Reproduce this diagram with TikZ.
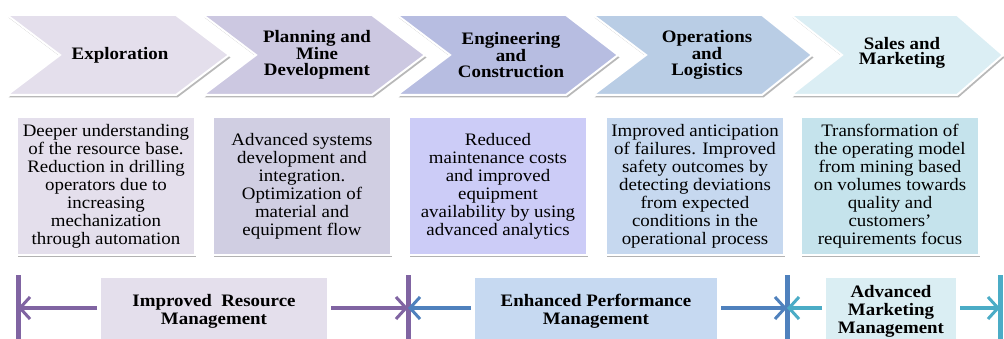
\documentclass[tikz,border=0pt]{standalone}
\usepackage{fontspec}
\setmainfont{Liberation Serif}
\newfontfamily\dfont[FakeStretch=1.08]{Liberation Serif}
\usetikzlibrary{arrows.meta,shadows}
\definecolor{chA}{HTML}{E4DFEC}
\definecolor{chB}{HTML}{CCC8E1}
\definecolor{chC}{HTML}{B7BDE1}
\definecolor{chD}{HTML}{B9CDE5}
\definecolor{chE}{HTML}{DBEEF4}
\definecolor{bxA}{HTML}{E4DFEC}
\definecolor{bxB}{HTML}{D0CEE2}
\definecolor{bxC}{HTML}{CCCCF7}
\definecolor{bxD}{HTML}{C6D8EF}
\definecolor{bxE}{HTML}{C5E3EC}
\definecolor{lowA}{HTML}{E4DFEC}
\definecolor{lowB}{HTML}{C6D9F1}
\definecolor{lowC}{HTML}{DAEEF3}
\definecolor{cpurple}{HTML}{8064A2}
\definecolor{cblue}{HTML}{4F81BD}
\definecolor{cteal}{HTML}{4BACC6}
\newcommand\mychev[5]{%
  \fill[black, opacity=0.28] ([shift={(1.5,2.5)}]#1,15) -- ([shift={(1.5,2.5)}]#2,15) -- ([shift={(1.5,2.5)}]#3,55) -- ([shift={(1.5,2.5)}]#2,95) -- ([shift={(1.5,2.5)}]#1,95) -- ([shift={(1.5,2.5)}]#4,55) -- cycle;
  \filldraw[fill=#5, draw=white, line width=2pt, line join=miter] (#1,15) -- (#2,15) -- (#3,55) -- (#2,95) -- (#1,95) -- (#4,55) -- cycle;}
\begin{document}
\begin{tikzpicture}[x=1pt,y=-1pt,
  chevtext/.style={font=\dfont\bfseries\fontsize{17.5}{15.5}\selectfont, align=center, inner sep=0pt},
  bodybox/.style={draw=white, line width=2pt, minimum width=178pt, minimum height=138pt, inner sep=1pt,
    align=center, font=\dfont\fontsize{17.5}{18}\selectfont,
    drop shadow={shadow xshift=1.3pt, shadow yshift=-2pt, fill=black, opacity=0.3}},
  lowbox/.style={draw=white, line width=2pt, minimum height=68pt, inner sep=1pt,
    align=center, font=\dfont\bfseries\fontsize{17.5}{18}\selectfont,
    drop shadow={shadow xshift=1.3pt, shadow yshift=-2pt, fill=black, opacity=0.25}},
  bar/.style={line width=5pt},
  arr/.style={line width=3.5pt, -{Straight Barb[length=10pt,width=22pt,line width=3pt]}, shorten <=2pt}
]
\useasboundingbox (0,0) rectangle (1004,339);
\clip (0,0) rectangle (1004,339);
\fill[white] (0,0) rectangle (1004,339);
% chevrons
\mychev{7}{176}{229}{60}{chA}
\mychev{203}{372}{425}{256}{chB}
\mychev{397}{566}{618}{450}{chC}
\mychev{593}{762}{812}{646}{chD}
\mychev{791}{957}{1003}{842}{chE}
\node[chevtext] (c1) at (120,55) {Exploration};
\node[chevtext] (c2) at (317,55) {Planning and\\Mine\\Development};
\node[chevtext] (c3) at (511,55) {Engineering\\and\\Construction};
\node[chevtext] (c4) at (707,55) {Operations\\and\\Logistics};
\node[chevtext] (c5) at (902,53) {Sales and\\Marketing};
% description boxes
\node[bodybox, fill=bxA] (t1) at (106,186) {Deeper understanding\\of the resource base.\\Reduction in drilling\\operators due to\\increasing\\mechanization\\through automation};
\node[bodybox, fill=bxB] (t2) at (302,186) {Advanced systems\\development and\\integration.\\Optimization of\\material and\\equipment flow};
\node[bodybox, fill=bxC] (t3) at (498,186) {Reduced\\maintenance costs\\and improved\\equipment\\availability by using\\advanced analytics};
\node[bodybox, fill=bxD] (t4) at (695,186) {Improved anticipation\\of failures. Improved\\safety outcomes by\\detecting deviations\\from expected\\conditions in the\\operational process};
\node[bodybox, fill=bxE] (t5) at (890,186) {Transformation of\\the operating model\\from mining based\\on volumes towards\\quality and\\customers’\\requirements focus};
% bottom management boxes
\node[lowbox, fill=lowA, minimum width=228pt] (A) at (214,311) {Improved\ \ Resource\\Management};
\node[lowbox, fill=lowB, minimum width=244pt] (B) at (596,311) {Enhanced Performance\\Management};
\node[lowbox, fill=lowC, minimum width=132pt] (C) at (891,311) {Advanced\\Marketing\\Management};
% bars
\coordinate (b1) at (18,308);
\coordinate (b2) at (408,308);
\coordinate (b3) at (787,308);
\coordinate (b4) at (1000,308);
\draw[bar, cpurple] (18,275) -- (18,345);
\draw[bar, cpurple] (408,275) -- (408,345);
\draw[bar, cblue] (787,275) -- (787,345);
\draw[bar, cteal] (1000,275) -- (1000,345);
% arrows
\draw[arr, cpurple] (A.west |- b1) -- (b1);
\draw[arr, cpurple] (A.east |- b2) -- (b2);
\draw[arr, cblue] (B.west |- b2) -- (b2);
\draw[arr, cblue] (B.east |- b3) -- (b3);
\draw[arr, cteal] (C.west |- b3) -- (b3);
\draw[arr, cteal] (C.east |- b4) -- (b4);
\end{tikzpicture}
\end{document}
